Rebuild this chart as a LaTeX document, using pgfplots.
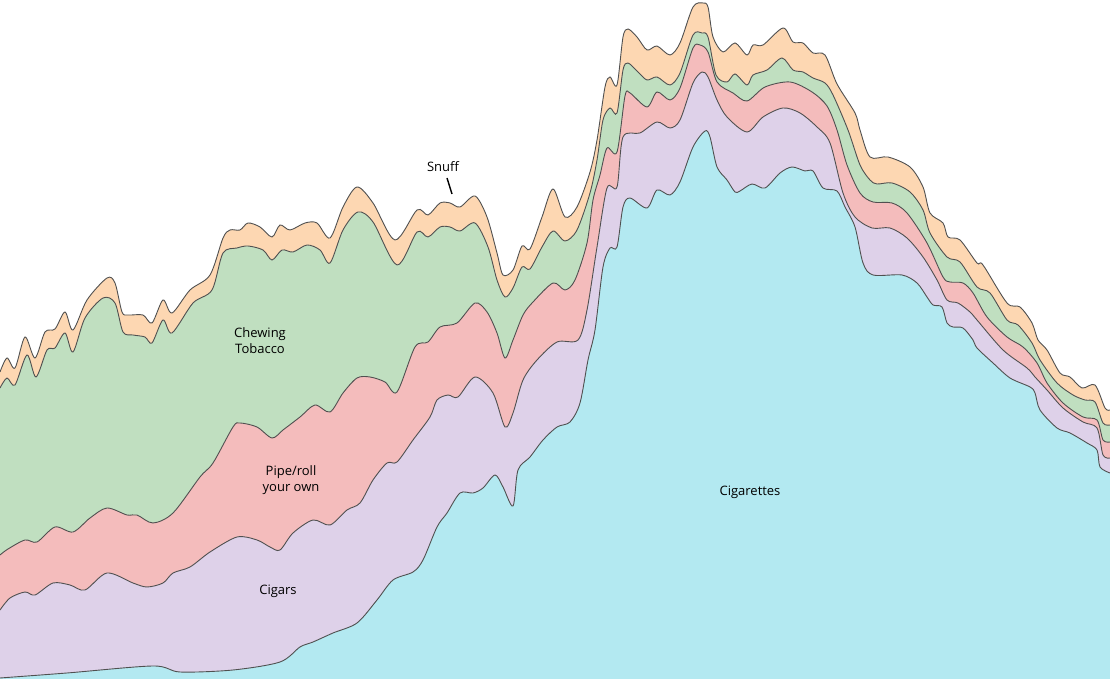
\documentclass[border=0pt]{standalone}
\usepackage{pgfplots}
\pgfplotsset{compat=1.18}
\usepackage{pgfplotstable}
\usepackage{fontspec}
\setmainfont{Open Sans}

\definecolor{snuffc}{RGB}{253,215,178}
\definecolor{chewc}{RGB}{192,223,192}
\definecolor{pipec}{RGB}{244,188,188}
\definecolor{cigarc}{RGB}{222,209,233}
\definecolor{cigtc}{RGB}{179,233,241}
\definecolor{edge}{RGB}{80,80,80}

% boundaries read as pixel rows (x, y from top); each is the cumulative top of a layer
\pgfplotstableread{
x y
0 372
7 358
15 368
25 337
35 358
45 332
55 329
65 312
73 330
87 300
107 278
115 283
122 312
128 315
143 315
152 323
163 300
172 313
190 290
210 275
223 238
230 230
240 230
248 223
260 227
272 237
280 225
290 230
305 223
317 223
330 238
343 207
357 187
373 203
395 240
417 210
428 215
440 203
450 203
460 207
475 196
487 217
497 253
503 275
513 270
522 246
530 249
542 217
553 189
565 217
577 207
590 172
597 140
605 87
610 77
617 85
623 37
628 29
637 37
647 50
657 46
670 55
680 43
693 7
703 3
708 7
713 37
723 52
735 43
747 55
753 45
763 45
783 28
793 42
803 43
813 53
825 55
837 84
855 113
860 130
870 157
888 157
910 167
923 187
930 213
943 223
948 237
960 240
977 263
983 265
1007 303
1020 307
1032 323
1038 340
1047 350
1060 373
1070 377
1082 388
1095 385
1105 408
1110 410
}\snuff

\pgfplotstableread{
x y
0 388
7 378
15 385
27 355
36 377
47 350
55 348
65 333
73 352
85 318
103 298
115 303
123 332
133 335
145 337
152 343
163 320
172 333
193 303
212 290
223 253
237 248
248 246
263 250
272 260
282 250
293 252
307 245
320 250
330 263
343 230
358 212
373 222
397 265
417 232
428 237
440 227
450 227
460 231
475 223
488 247
497 280
505 297
513 288
522 267
530 269
542 247
553 231
565 241
577 230
590 193
597 160
603 120
610 108
617 113
623 70
628 63
638 72
647 80
657 77
670 85
680 73
693 35
702 33
708 37
716 75
727 82
735 74
747 85
753 75
767 70
782 58
793 70
803 72
813 78
825 83
833 95
848 130
860 165
870 180
877 184
892 183
910 192
923 210
930 233
947 257
960 262
977 287
990 293
1007 320
1018 325
1032 343
1040 360
1057 383
1073 395
1085 400
1095 402
1103 423
1110 425
}\chew

\pgfplotstableread{
x y
0 555
8 549
25 540
37 542
55 527
73 532
90 518
107 508
127 515
137 515
153 523
173 513
200 477
213 463
233 427
240 423
257 427
272 438
283 430
300 417
315 405
330 412
343 393
357 378
370 377
385 382
397 392
415 347
428 342
440 327
457 323
475 303
487 312
497 333
505 358
513 340
523 315
533 302
553 283
565 290
575 280
587 243
593 200
600 175
607 148
617 152
625 96
630 93
647 107
657 92
670 100
680 88
693 48
700 45
708 52
717 82
733 93
747 101
765 87
790 82
812 92
827 106
837 130
847 165
860 193
873 202
892 203
907 213
927 243
943 277
950 282
963 283
973 293
987 317
1007 337
1023 347
1037 363
1047 383
1063 403
1083 417
1097 420
1103 440
1110 442
}\pipe

\pgfplotstableread{
x y
0 610
10 598
25 592
35 595
53 583
70 585
85 590
107 573
133 583
147 587
163 583
173 573
190 567
210 552
237 537
257 540
270 547
280 550
293 533
313 520
330 525
347 510
360 503
373 480
387 463
397 462
413 440
430 417
437 400
448 395
458 397
475 377
493 393
505 427
513 413
523 380
537 360
557 342
578 340
587 310
597 247
607 188
617 187
623 137
640 133
657 122
670 128
680 120
693 83
702 72
708 77
717 100
727 117
747 132
763 117
783 108
800 113
817 127
830 143
843 193
855 217
872 228
890 228
907 238
923 257
937 280
947 300
958 303
970 312
977 320
1003 350
1027 368
1035 377
1047 390
1063 408
1083 422
1097 428
1103 455
1110 458
}\cigars

\pgfplotstableread{
x y
0 678
67 673
153 666
180 672
233 670
280 662
300 647
313 642
333 633
357 623
377 600
393 580
413 572
423 560
437 527
447 513
460 493
473 493
483 488
495 475
503 487
513 506
518 470
530 457
543 440
557 427
570 422
580 403
588 360
595 330
603 267
610 248
617 247
623 207
630 198
647 208
657 190
670 195
680 182
693 147
705 131
710 137
717 167
727 180
735 192
740 191
752 184
765 188
780 173
792 167
805 171
813 171
823 188
837 191
845 207
855 227
863 263
873 275
902 275
917 283
927 297
933 305
942 307
947 323
953 327
963 328
973 340
977 348
993 363
1010 378
1030 387
1035 393
1040 410
1057 428
1070 433
1087 443
1097 450
1100 467
1110 473
}\cigarettes

\begin{document}
\begin{tikzpicture}
\begin{axis}[
  at={(0,0)}, anchor=south west,
  width=1110pt, height=679pt, scale only axis,
  hide axis,
  xmin=0, xmax=1110, ymin=0, ymax=679,
  clip=true,
]
\addplot[fill=snuffc, draw=none, smooth] table[x=x, y expr=679-\thisrow{y}] {\snuff} \closedcycle;
\addplot[edge, line width=0.9pt, smooth] table[x=x, y expr=679-\thisrow{y}] {\snuff};
\addplot[fill=chewc, draw=none, smooth] table[x=x, y expr=679-\thisrow{y}] {\chew} \closedcycle;
\addplot[edge, line width=0.9pt, smooth] table[x=x, y expr=679-\thisrow{y}] {\chew};
\addplot[fill=pipec, draw=none, smooth] table[x=x, y expr=679-\thisrow{y}] {\pipe} \closedcycle;
\addplot[edge, line width=0.9pt, smooth] table[x=x, y expr=679-\thisrow{y}] {\pipe};
\addplot[fill=cigarc, draw=none, smooth] table[x=x, y expr=679-\thisrow{y}] {\cigars} \closedcycle;
\addplot[edge, line width=0.9pt, smooth] table[x=x, y expr=679-\thisrow{y}] {\cigars};
\addplot[fill=cigtc, draw=none, smooth] table[x=x, y expr=679-\thisrow{y}] {\cigarettes} \closedcycle;
\addplot[edge, line width=0.9pt, smooth] table[x=x, y expr=679-\thisrow{y}] {\cigarettes};

\begin{scope}[font=\fontsize{13}{16}\selectfont]
\node at (axis cs:443,512) {Snuff};
\draw[black, line width=1.4pt] (axis cs:447,501) -- (axis cs:452,485);
\node[align=center] at (axis cs:260,338) {Chewing\\Tobacco};
\node[align=center] at (axis cs:291,199) {Pipe/roll\\your own};
\node at (axis cs:278,88) {Cigars};
\node at (axis cs:750,187) {Cigarettes};
\end{scope}
\end{axis}
\pgfresetboundingbox
\path (0,0) rectangle (1110pt,679pt);
\end{tikzpicture}
\end{document}
